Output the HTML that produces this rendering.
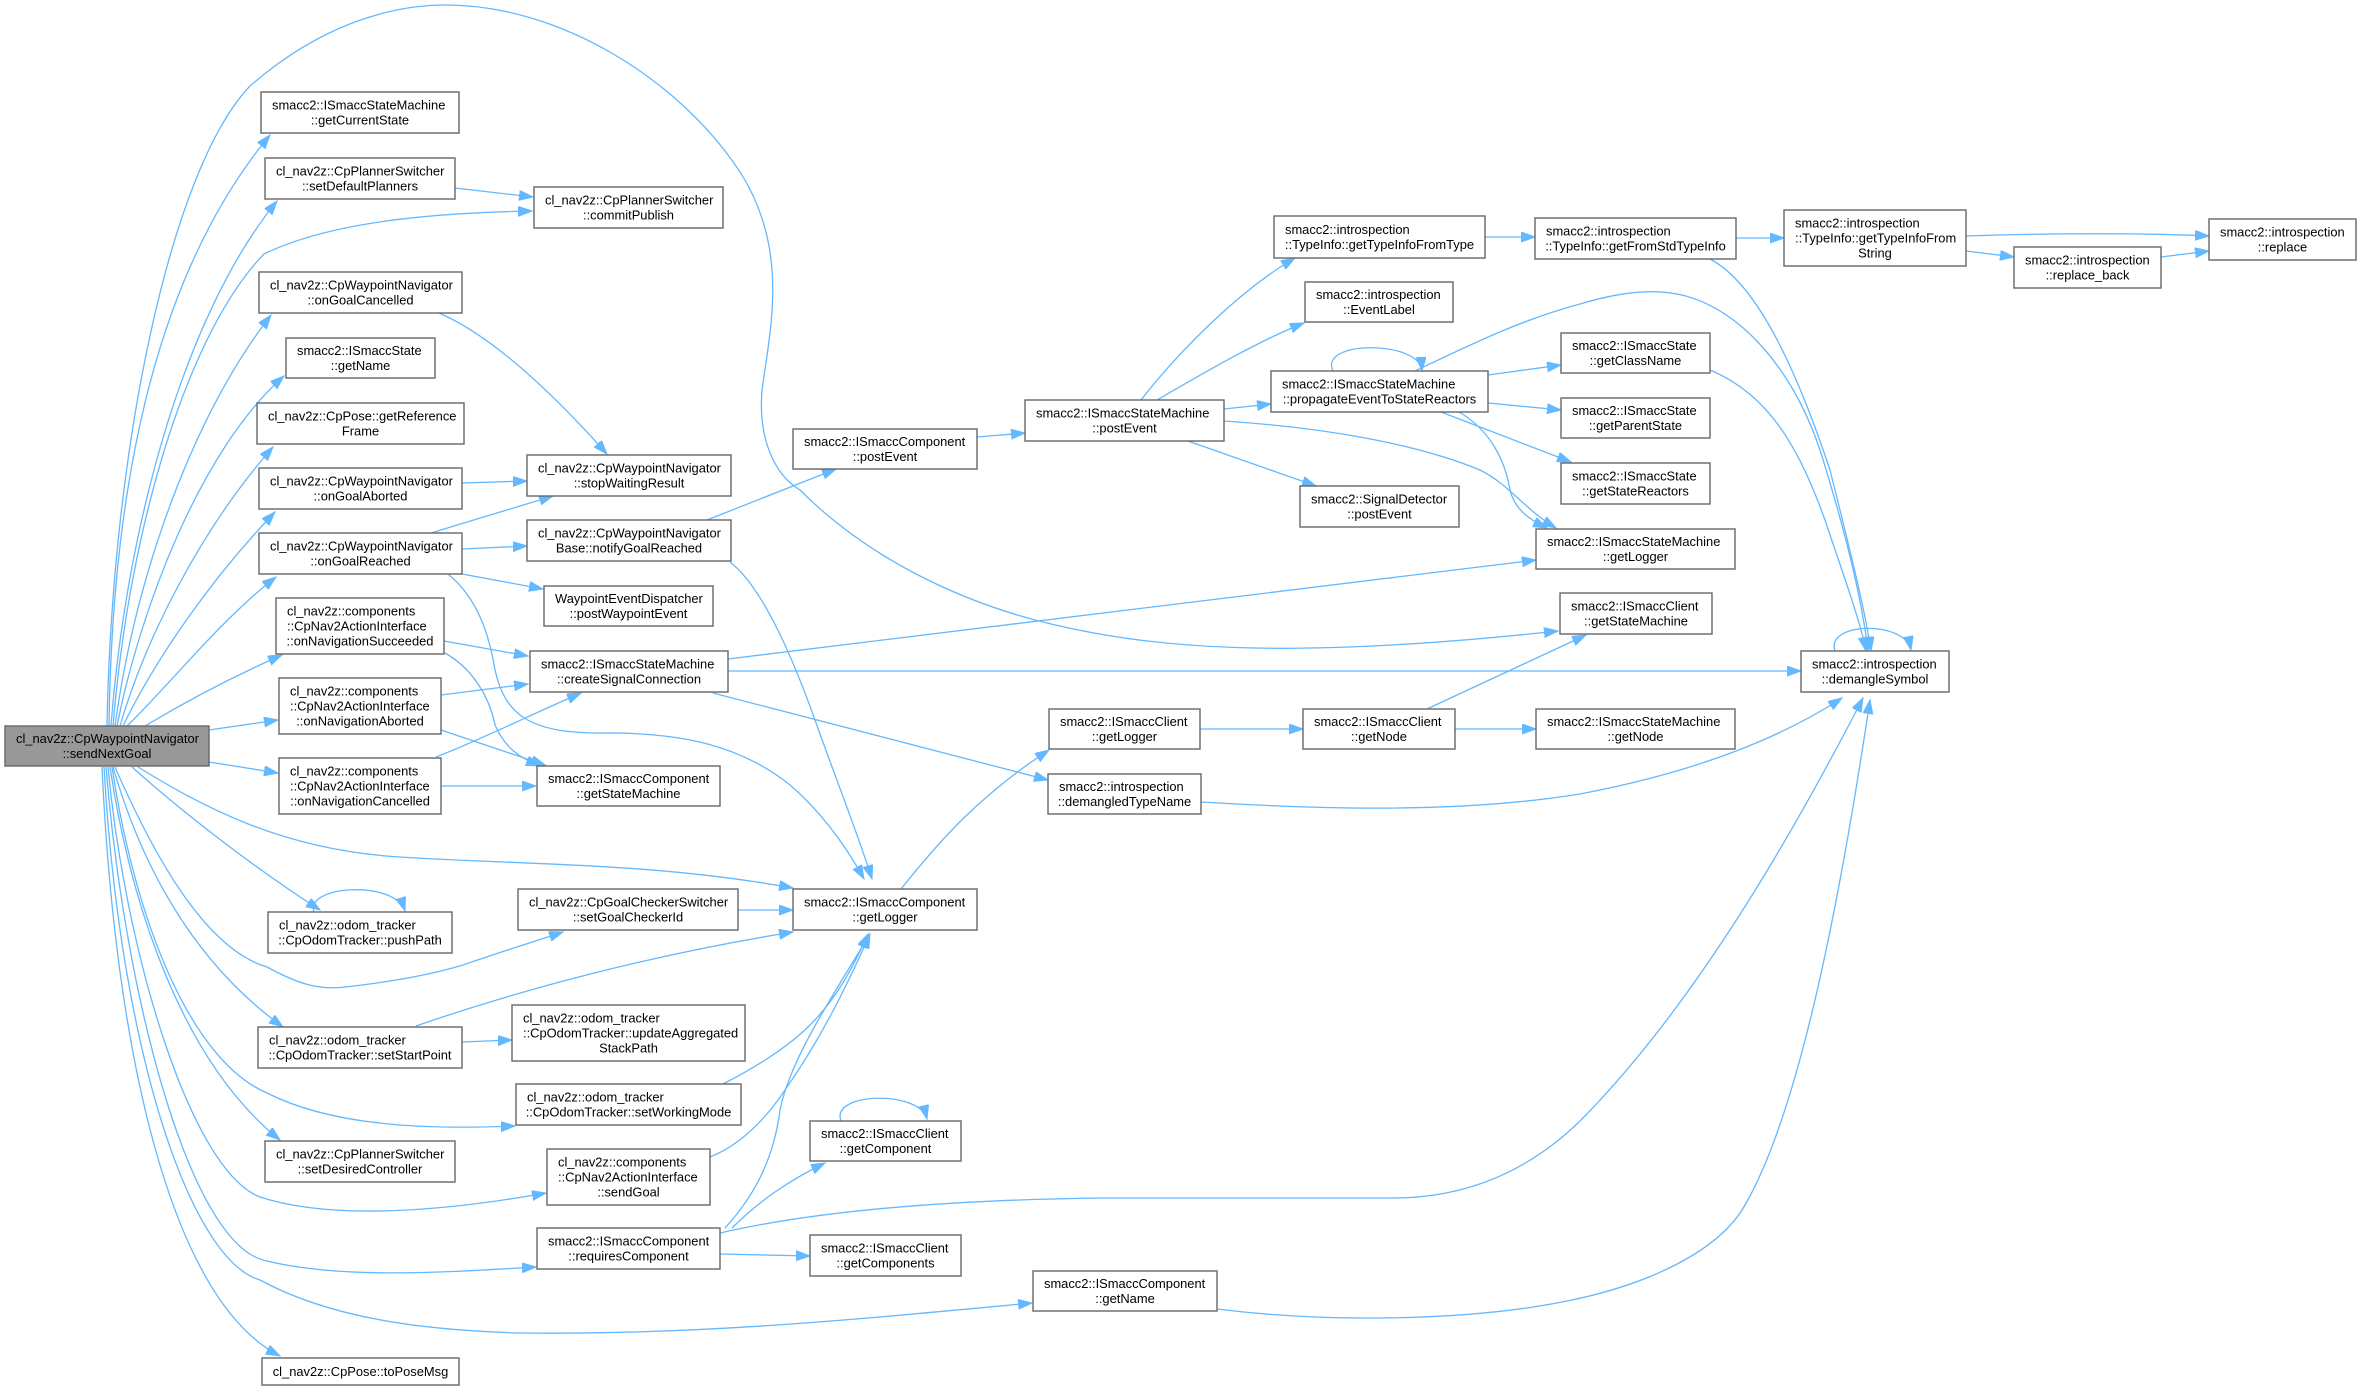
<!DOCTYPE html>
<html>
<head>
<meta charset="utf-8">
<style>
html,body{margin:0;padding:0;background:#fff;}
svg{display:block;}
.n rect{fill:#fff;stroke:#666;stroke-width:1.4;}
.n.g rect{fill:#999;}
text{font-family:"Liberation Sans",Arial,sans-serif;font-size:12.9px;fill:#000;}
.e path{fill:none;stroke:#63b8ff;stroke-width:1.3;marker-end:url(#ah);}
</style>
</head>
<body>
<svg width="2362" height="1390" viewBox="0 0 2362 1390" xmlns="http://www.w3.org/2000/svg">
<defs>
<marker id="ah" markerWidth="16" markerHeight="12" refX="14" refY="5" orient="auto" markerUnits="userSpaceOnUse">
<path d="M0,0 L14,5 L0,10 z" fill="#63b8ff" stroke="#63b8ff" stroke-width="1"/>
</marker>
</defs>

<!-- EDGES -->
<g class="e">
<!-- sendNextGoal outgoing -->
<path d="M109,726 C 112,500 150,280 270,135"/>
<path d="M111,726 C 125,540 180,320 277,201"/>
<path d="M113,726 C 130,520 190,330 264,254 C 330,222 430,213 532,211"/>
<path d="M115,726 C 135,580 190,420 271,315"/>
<path d="M117,726 C 140,610 200,450 284,376"/>
<path d="M120,726 C 145,640 200,530 273,447"/>
<path d="M123,726 C 155,660 210,580 275,512"/>
<path d="M127,726 C 165,690 220,620 276,577"/>
<path d="M145,726 C 180,705 225,680 282,655"/>
<path d="M209,730 L278,720"/>
<path d="M209,762 L278,773"/>
<path d="M132,767 C 180,810 250,865 320,910"/>
<path d="M115,767 C 160,870 210,950 267,967 C 300,985 320,990 345,987 C 390,982 430,975 463,965 C 500,952 530,943 563,932"/>
<path d="M138,767 C 200,805 280,850 400,857 C 520,865 650,862 793,888"/>
<path d="M113,767 C 140,860 190,960 283,1027"/>
<path d="M112,767 C 135,920 190,1060 267,1093 C 330,1125 420,1130 515,1126"/>
<path d="M110,767 C 130,900 180,1060 280,1140"/>
<path d="M108,767 C 125,950 190,1170 260,1197 C 330,1220 440,1212 546,1193"/>
<path d="M106,767 C 125,1000 190,1240 263,1260 C 340,1280 450,1272 536,1267"/>
<path d="M104,767 C 120,1050 190,1260 260,1280 C 330,1318 420,1330 520,1333 C 700,1335 850,1320 1032,1303"/>
<path d="M102,767 C 115,1050 170,1300 280,1356"/>
<path d="M107,726 C 112,450 170,170 250,86 C 320,25 390,5 446,5 C 560,5 680,80 740,172 C 790,250 770,330 762,390 C 758,440 775,475 800,490 C 870,560 960,600 1035,620 C 1150,650 1290,660 1558,631"/>

<!-- left column internal -->
<path d="M455,188 L533,197"/>
<path d="M439,313 C 490,335 550,390 607,454"/>
<path d="M462,483 L527,481"/>
<path d="M431,533 L553,496"/>
<path d="M462,549 L527,546"/>
<path d="M462,574 L543,589"/>
<path d="M448,574 C 480,600 490,640 495,670 C 505,715 530,733 600,733 C 680,732 740,745 790,785 C 825,815 848,850 864,879"/>
<path d="M730,562 C 760,585 790,650 815,720 C 840,790 860,840 872,879"/>
<path d="M707,520 L836,469"/>
<path d="M444,641 L528,656"/>
<path d="M445,653 C 475,670 490,700 495,725 C 505,748 520,758 540,766"/>
<path d="M441,695 L528,684"/>
<path d="M441,730 L545,765"/>
<path d="M436,757 C 480,740 530,715 581,693"/>
<path d="M441,786 L536,786"/>
<path d="M314,912 C 305,885 395,880 405,911"/>
<path d="M738,910 L793,910"/>
<path d="M416,1026 C 520,990 650,955 793,932"/>
<path d="M462,1042 L512,1040"/>
<path d="M723,1084 C 760,1065 790,1045 810,1025 C 835,1000 852,970 868,934"/>
<path d="M710,1157 C 740,1145 765,1120 785,1090 C 820,1040 845,990 870,934"/>
<path d="M725,1228 C 760,1190 775,1150 780,1110 C 790,1060 830,1000 870,934"/>
<path d="M732,1228 C 760,1200 790,1180 825,1163"/>
<path d="M720,1254 L810,1256"/>
<path d="M720,1233 C 820,1210 950,1200 1100,1198 L1392,1198 C 1480,1198 1540,1160 1580,1121 C 1700,1000 1800,820 1863,698"/>
<path d="M841,1121 C 830,1092 920,1090 927,1119"/>
<path d="M1217,1309 C 1320,1322 1460,1322 1562,1302 C 1650,1285 1720,1250 1745,1205 C 1800,1110 1840,900 1870,700"/>
<path d="M1201,802 C 1300,808 1450,815 1580,794 C 1680,775 1770,745 1842,698"/>

<!-- createSignalConnection -->
<path d="M728,659 L1536,560"/>
<path d="M728,671 L1801,671"/>
<path d="M713,693 L1048,780"/>

<!-- getLogger chain -->
<path d="M901,889 C 940,840 980,795 1049,750"/>
<path d="M1200,729 L1303,729"/>
<path d="M1455,729 L1536,729"/>
<path d="M1427,709 L1586,635"/>

<!-- postEvent chain -->
<path d="M977,437 L1025,433"/>
<path d="M1141,400 C 1180,350 1240,290 1295,258"/>
<path d="M1157,400 C 1200,375 1260,340 1304,323"/>
<path d="M1224,409 L1271,404"/>
<path d="M1188,441 L1316,486"/>
<path d="M1224,421 C 1330,428 1420,445 1480,470 C 1510,485 1525,510 1556,528"/>
<path d="M1485,237 L1535,237"/>
<path d="M1736,238 L1784,238"/>
<path d="M1710,259 C 1760,285 1800,380 1830,470 C 1850,550 1865,610 1871,651"/>
<path d="M1966,236 C 2050,233 2150,233 2209,236"/>
<path d="M1966,251 L2014,257"/>
<path d="M2161,257 L2209,251"/>
<path d="M1333,371 C 1318,340 1420,340 1422,371"/>
<path d="M1415,371 C 1470,345 1520,320 1580,304 C 1620,292 1650,290 1670,293 C 1730,300 1790,360 1820,450 C 1845,530 1862,600 1868,651"/>
<path d="M1488,375 L1561,365"/>
<path d="M1488,403 L1561,410"/>
<path d="M1441,412 L1571,462"/>
<path d="M1459,412 C 1490,430 1505,460 1510,490 C 1515,510 1530,520 1547,528"/>
<path d="M1710,370 C 1770,395 1800,450 1825,520 C 1845,580 1860,620 1866,651"/>
<path d="M1835,651 C 1825,622 1905,620 1911,650"/>
</g>

<!-- NODES -->
<g class="n g"><rect x="5" y="726" width="204" height="40"/><text x="16" y="743">cl_nav2z::CpWaypointNavigator</text><text x="107" y="758" text-anchor="middle">::sendNextGoal</text></g>

<g class="n"><rect x="261" y="92" width="198" height="41"/><text x="272" y="109.5">smacc2::ISmaccStateMachine</text><text x="360" y="124.5" text-anchor="middle">::getCurrentState</text></g>
<g class="n"><rect x="265" y="158" width="190" height="41"/><text x="276" y="175.5">cl_nav2z::CpPlannerSwitcher</text><text x="360" y="190.5" text-anchor="middle">::setDefaultPlanners</text></g>
<g class="n"><rect x="534" y="187" width="189" height="41"/><text x="545" y="204.5">cl_nav2z::CpPlannerSwitcher</text><text x="628.5" y="219.5" text-anchor="middle">::commitPublish</text></g>
<g class="n"><rect x="259" y="272" width="203" height="41"/><text x="270" y="289.5">cl_nav2z::CpWaypointNavigator</text><text x="360.5" y="304.5" text-anchor="middle">::onGoalCancelled</text></g>
<g class="n"><rect x="286" y="338" width="149" height="40"/><text x="297" y="355">smacc2::ISmaccState</text><text x="360.5" y="370" text-anchor="middle">::getName</text></g>
<g class="n"><rect x="257" y="403" width="207" height="41"/><text x="268" y="420.5">cl_nav2z::CpPose::getReference</text><text x="360.5" y="435.5" text-anchor="middle">Frame</text></g>
<g class="n"><rect x="259" y="468" width="203" height="41"/><text x="270" y="485.5">cl_nav2z::CpWaypointNavigator</text><text x="360.5" y="500.5" text-anchor="middle">::onGoalAborted</text></g>
<g class="n"><rect x="527" y="455" width="204" height="41"/><text x="538" y="472.5">cl_nav2z::CpWaypointNavigator</text><text x="629" y="487.5" text-anchor="middle">::stopWaitingResult</text></g>
<g class="n"><rect x="259" y="533" width="203" height="41"/><text x="270" y="550.5">cl_nav2z::CpWaypointNavigator</text><text x="360.5" y="565.5" text-anchor="middle">::onGoalReached</text></g>
<g class="n"><rect x="527" y="520" width="204" height="41"/><text x="538" y="537.5">cl_nav2z::CpWaypointNavigator</text><text x="629" y="552.5" text-anchor="middle">Base::notifyGoalReached</text></g>
<g class="n"><rect x="544" y="586" width="169" height="40"/><text x="555" y="603">WaypointEventDispatcher</text><text x="628.5" y="618" text-anchor="middle">::postWaypointEvent</text></g>
<g class="n"><rect x="276" y="598" width="168" height="56"/><text x="287" y="615.5">cl_nav2z::components</text><text x="287" y="630.5">::CpNav2ActionInterface</text><text x="360" y="645.5" text-anchor="middle">::onNavigationSucceeded</text></g>
<g class="n"><rect x="530" y="651" width="198" height="41"/><text x="541" y="668.5">smacc2::ISmaccStateMachine</text><text x="629" y="683.5" text-anchor="middle">::createSignalConnection</text></g>
<g class="n"><rect x="279" y="678" width="162" height="56"/><text x="290" y="695.5">cl_nav2z::components</text><text x="290" y="710.5">::CpNav2ActionInterface</text><text x="360" y="725.5" text-anchor="middle">::onNavigationAborted</text></g>
<g class="n"><rect x="279" y="758" width="162" height="56"/><text x="290" y="775.5">cl_nav2z::components</text><text x="290" y="790.5">::CpNav2ActionInterface</text><text x="360" y="805.5" text-anchor="middle">::onNavigationCancelled</text></g>
<g class="n"><rect x="537" y="766" width="183" height="40"/><text x="548" y="783">smacc2::ISmaccComponent</text><text x="628.5" y="798" text-anchor="middle">::getStateMachine</text></g>
<g class="n"><rect x="268" y="912" width="184" height="41"/><text x="279" y="929.5">cl_nav2z::odom_tracker</text><text x="360" y="944.5" text-anchor="middle">::CpOdomTracker::pushPath</text></g>
<g class="n"><rect x="518" y="889" width="220" height="41"/><text x="529" y="906.5">cl_nav2z::CpGoalCheckerSwitcher</text><text x="628" y="921.5" text-anchor="middle">::setGoalCheckerId</text></g>
<g class="n"><rect x="793" y="889" width="184" height="41"/><text x="804" y="906.5">smacc2::ISmaccComponent</text><text x="885" y="921.5" text-anchor="middle">::getLogger</text></g>
<g class="n"><rect x="258" y="1027" width="204" height="41"/><text x="269" y="1044.5">cl_nav2z::odom_tracker</text><text x="360" y="1059.5" text-anchor="middle">::CpOdomTracker::setStartPoint</text></g>
<g class="n"><rect x="512" y="1005" width="233" height="56"/><text x="523" y="1022.5">cl_nav2z::odom_tracker</text><text x="523" y="1037.5">::CpOdomTracker::updateAggregated</text><text x="628.5" y="1052.5" text-anchor="middle">StackPath</text></g>
<g class="n"><rect x="516" y="1084" width="225" height="41"/><text x="527" y="1101.5">cl_nav2z::odom_tracker</text><text x="628.5" y="1116.5" text-anchor="middle">::CpOdomTracker::setWorkingMode</text></g>
<g class="n"><rect x="265" y="1141" width="190" height="41"/><text x="276" y="1158.5">cl_nav2z::CpPlannerSwitcher</text><text x="360" y="1173.5" text-anchor="middle">::setDesiredController</text></g>
<g class="n"><rect x="547" y="1149" width="163" height="56"/><text x="558" y="1166.5">cl_nav2z::components</text><text x="558" y="1181.5">::CpNav2ActionInterface</text><text x="628.5" y="1196.5" text-anchor="middle">::sendGoal</text></g>
<g class="n"><rect x="537" y="1228" width="183" height="41"/><text x="548" y="1245.5">smacc2::ISmaccComponent</text><text x="628.5" y="1260.5" text-anchor="middle">::requiresComponent</text></g>
<g class="n"><rect x="810" y="1121" width="151" height="40"/><text x="821" y="1138">smacc2::ISmaccClient</text><text x="885.5" y="1153" text-anchor="middle">::getComponent</text></g>
<g class="n"><rect x="810" y="1235" width="151" height="41"/><text x="821" y="1252.5">smacc2::ISmaccClient</text><text x="885.5" y="1267.5" text-anchor="middle">::getComponents</text></g>
<g class="n"><rect x="1033" y="1271" width="184" height="40"/><text x="1044" y="1288">smacc2::ISmaccComponent</text><text x="1125" y="1303" text-anchor="middle">::getName</text></g>
<g class="n"><rect x="262" y="1358" width="197" height="27"/><text x="360.5" y="1376" text-anchor="middle">cl_nav2z::CpPose::toPoseMsg</text></g>

<g class="n"><rect x="793" y="429" width="184" height="40"/><text x="804" y="446">smacc2::ISmaccComponent</text><text x="885" y="461" text-anchor="middle">::postEvent</text></g>
<g class="n"><rect x="1025" y="400" width="199" height="41"/><text x="1036" y="417.5">smacc2::ISmaccStateMachine</text><text x="1124.5" y="432.5" text-anchor="middle">::postEvent</text></g>
<g class="n"><rect x="1274" y="216" width="211" height="42"/><text x="1285" y="234">smacc2::introspection</text><text x="1379.5" y="249" text-anchor="middle">::TypeInfo::getTypeInfoFromType</text></g>
<g class="n"><rect x="1305" y="282" width="148" height="40"/><text x="1316" y="299">smacc2::introspection</text><text x="1379" y="314" text-anchor="middle">::EventLabel</text></g>
<g class="n"><rect x="1271" y="371" width="217" height="41"/><text x="1282" y="388.5">smacc2::ISmaccStateMachine</text><text x="1379.5" y="403.5" text-anchor="middle">::propagateEventToStateReactors</text></g>
<g class="n"><rect x="1300" y="486" width="159" height="41"/><text x="1311" y="503.5">smacc2::SignalDetector</text><text x="1379.5" y="518.5" text-anchor="middle">::postEvent</text></g>
<g class="n"><rect x="1535" y="218" width="201" height="41"/><text x="1546" y="235.5">smacc2::introspection</text><text x="1635.5" y="250.5" text-anchor="middle">::TypeInfo::getFromStdTypeInfo</text></g>
<g class="n"><rect x="1784" y="210" width="182" height="56"/><text x="1795" y="227.5">smacc2::introspection</text><text x="1795" y="242.5">::TypeInfo::getTypeInfoFrom</text><text x="1875" y="257.5" text-anchor="middle">String</text></g>
<g class="n"><rect x="2209" y="219" width="147" height="41"/><text x="2220" y="236.5">smacc2::introspection</text><text x="2282.5" y="251.5" text-anchor="middle">::replace</text></g>
<g class="n"><rect x="2014" y="247" width="147" height="41"/><text x="2025" y="264.5">smacc2::introspection</text><text x="2087.5" y="279.5" text-anchor="middle">::replace_back</text></g>
<g class="n"><rect x="1561" y="333" width="149" height="40"/><text x="1572" y="350">smacc2::ISmaccState</text><text x="1635.5" y="365" text-anchor="middle">::getClassName</text></g>
<g class="n"><rect x="1561" y="398" width="149" height="40"/><text x="1572" y="415">smacc2::ISmaccState</text><text x="1635.5" y="430" text-anchor="middle">::getParentState</text></g>
<g class="n"><rect x="1561" y="463" width="149" height="41"/><text x="1572" y="480.5">smacc2::ISmaccState</text><text x="1635.5" y="495.5" text-anchor="middle">::getStateReactors</text></g>
<g class="n"><rect x="1536" y="529" width="199" height="40"/><text x="1547" y="546">smacc2::ISmaccStateMachine</text><text x="1635.5" y="561" text-anchor="middle">::getLogger</text></g>
<g class="n"><rect x="1560" y="593" width="152" height="41"/><text x="1571" y="610.5">smacc2::ISmaccClient</text><text x="1636" y="625.5" text-anchor="middle">::getStateMachine</text></g>
<g class="n"><rect x="1801" y="651" width="148" height="41"/><text x="1812" y="668.5">smacc2::introspection</text><text x="1875" y="683.5" text-anchor="middle">::demangleSymbol</text></g>
<g class="n"><rect x="1049" y="709" width="151" height="40"/><text x="1060" y="726">smacc2::ISmaccClient</text><text x="1124.5" y="741" text-anchor="middle">::getLogger</text></g>
<g class="n"><rect x="1303" y="709" width="152" height="40"/><text x="1314" y="726">smacc2::ISmaccClient</text><text x="1379" y="741" text-anchor="middle">::getNode</text></g>
<g class="n"><rect x="1536" y="709" width="199" height="40"/><text x="1547" y="726">smacc2::ISmaccStateMachine</text><text x="1635.5" y="741" text-anchor="middle">::getNode</text></g>
<g class="n"><rect x="1048" y="774" width="153" height="40"/><text x="1059" y="791">smacc2::introspection</text><text x="1124.5" y="806" text-anchor="middle">::demangledTypeName</text></g>
</svg>
</body>
</html>
